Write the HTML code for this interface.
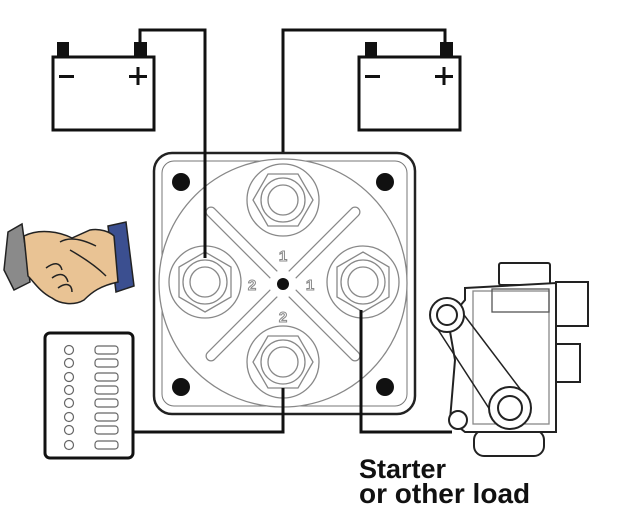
<!DOCTYPE html>
<html><head><meta charset="utf-8"><style>
html,body{margin:0;padding:0;background:#fff;width:636px;height:510px;overflow:hidden}
</style></head><body>
<svg width="636" height="510" viewBox="0 0 636 510" xmlns="http://www.w3.org/2000/svg">
<rect width="636" height="510" fill="#fff"/>
<g fill="none" stroke="#111" stroke-width="3">
<polyline points="140,44 140,30 205,30 205,258"/>
<polyline points="445,44 445,30 283,30 283,152"/>
<polyline points="283,392 283,432 133,432"/>
<polyline points="361,310 361,432 452,432"/>
</g>
<g fill="#fff" stroke="#111" stroke-width="3">
<rect x="53" y="57" width="101" height="73"/>
<rect x="359" y="57" width="101" height="73"/>
</g>
<g fill="#111">
<rect x="57" y="42" width="12" height="14"/><rect x="134" y="42" width="13" height="14"/>
<rect x="365" y="42" width="12" height="14"/><rect x="440" y="42" width="13" height="14"/>
<rect x="59" y="75" width="15" height="3"/><rect x="129" y="75" width="18" height="3"/><rect x="136.5" y="67" width="3" height="18"/>
<rect x="365" y="75" width="15" height="3"/><rect x="435" y="75" width="18" height="3"/><rect x="442.5" y="67" width="3" height="18"/>
</g>
<rect x="154" y="153" width="261" height="261" rx="18" fill="#fff" stroke="#222" stroke-width="2.5"/>
<rect x="162" y="161" width="245" height="245" rx="12" fill="none" stroke="#777" stroke-width="1"/>
<circle cx="283" cy="283" r="124" fill="#fff" stroke="#888" stroke-width="1.3"/>
<g fill="#111"><circle cx="181" cy="182" r="9"/><circle cx="385" cy="182" r="9"/><circle cx="181" cy="387" r="9"/><circle cx="385" cy="387" r="9"/></g>
<g stroke="#888" stroke-width="11" stroke-linecap="round">
<line x1="211" y1="212" x2="355" y2="356"/><line x1="355" y1="212" x2="211" y2="356"/>
</g>
<g stroke="#fff" stroke-width="8.5" stroke-linecap="round">
<line x1="211" y1="212" x2="355" y2="356"/><line x1="355" y1="212" x2="211" y2="356"/>
</g>
<circle cx="283" cy="284" r="14" fill="#fff"/>
<circle cx="283" cy="284" r="6" fill="#111"/>
<g font-family="Liberation Sans, sans-serif" font-weight="bold" font-size="15" fill="#fff" stroke="#888" stroke-width="1" text-anchor="middle">
<text x="283" y="261">1</text><text x="252" y="290">2</text><text x="310" y="290">1</text><text x="283" y="322">2</text>
</g>
<g fill="#fff" stroke="#888" stroke-width="1.3">
<g transform="translate(283,200)"><circle r="36"/><polygon points="30,0 15,26 -15,26 -30,0 -15,-26 15,-26"/><circle r="22"/><circle r="15"/></g>
<g transform="translate(205,282)"><circle r="36"/><polygon points="0,30 26,15 26,-15 0,-30 -26,-15 -26,15"/><circle r="22"/><circle r="15"/></g>
<g transform="translate(363,282)"><circle r="36"/><polygon points="0,30 26,15 26,-15 0,-30 -26,-15 -26,15"/><circle r="22"/><circle r="15"/></g>
<g transform="translate(283,362)"><circle r="36"/><polygon points="30,0 15,26 -15,26 -30,0 -15,-26 15,-26"/><circle r="22"/><circle r="15"/></g>
</g>
<line x1="205" y1="30" x2="205" y2="258" stroke="#111" stroke-width="3"/>
<line x1="283" y1="388" x2="283" y2="432" stroke="#111" stroke-width="3"/>
<line x1="361" y1="310" x2="361" y2="432" stroke="#111" stroke-width="3"/>
<rect x="45" y="333" width="88" height="125" rx="5" fill="#fff" stroke="#111" stroke-width="3"/>
<g fill="#fff" stroke="#666" stroke-width="1.2">
<circle cx="69" cy="350" r="4.5"/><circle cx="69" cy="363" r="4.5"/><circle cx="69" cy="377" r="4.5"/><circle cx="69" cy="390" r="4.5"/><circle cx="69" cy="403" r="4.5"/><circle cx="69" cy="417" r="4.5"/><circle cx="69" cy="430" r="4.5"/><circle cx="69" cy="445" r="4.5"/>
<rect x="95" y="346" width="23" height="8" rx="3"/><rect x="95" y="359" width="23" height="8" rx="3"/><rect x="95" y="373" width="23" height="8" rx="3"/><rect x="95" y="386" width="23" height="8" rx="3"/><rect x="95" y="399" width="23" height="8" rx="3"/><rect x="95" y="413" width="23" height="8" rx="3"/><rect x="95" y="426" width="23" height="8" rx="3"/><rect x="95" y="441" width="23" height="8" rx="3"/>
</g>
<g stroke="#222" stroke-width="1.5">
<polygon points="8,232 22,224 30,282 14,290 4,270" fill="#8a8a8a"/>
<polygon points="108,226 126,222 134,286 116,292" fill="#3b4f90"/>
<path d="M24,236 C40,228 60,232 72,238 L90,230 C100,228 110,232 114,236 L118,282 C100,286 92,292 84,300 C74,306 60,304 52,298 C40,292 34,282 28,276 Z" fill="#e9c394"/>
<path d="M60,242 C70,236 84,240 96,246 M46,268 C54,262 60,262 62,270 M52,278 C60,272 66,274 68,282 M58,288 C66,282 72,284 72,292 M70,250 C84,258 96,266 106,276" fill="none"/>
</g>
<g fill="#fff" stroke="#222" stroke-width="2">
<rect x="499" y="263" width="51" height="22" rx="2"/>
<rect x="556" y="282" width="32" height="44"/>
<rect x="556" y="344" width="24" height="38"/>
<rect x="474" y="430" width="70" height="26" rx="10"/>
<path d="M465,288 L556,283 L556,432 L465,432 L450,420 L455,360 L448,320 L465,300 Z"/>
<rect x="473" y="291" width="76" height="133" fill="none" stroke="#888" stroke-width="1.3"/>
<rect x="492" y="289" width="57" height="23" fill="none" stroke="#555" stroke-width="1.3"/>
<line x1="435" y1="325" x2="492" y2="413" stroke-width="1.5"/>
<line x1="458" y1="307" x2="527" y2="398" stroke-width="1.5"/>
<circle cx="447" cy="315" r="17"/><circle cx="447" cy="315" r="10"/>
<circle cx="510" cy="408" r="21"/><circle cx="510" cy="408" r="12"/>
<circle cx="458" cy="420" r="9"/>
</g>
<g font-family="Liberation Sans, sans-serif" font-weight="bold" fill="#111">
<text x="359" y="478" font-size="27">Starter</text>
<text x="359" y="503" font-size="28">or other load</text>
</g>
</svg>
</body></html>
